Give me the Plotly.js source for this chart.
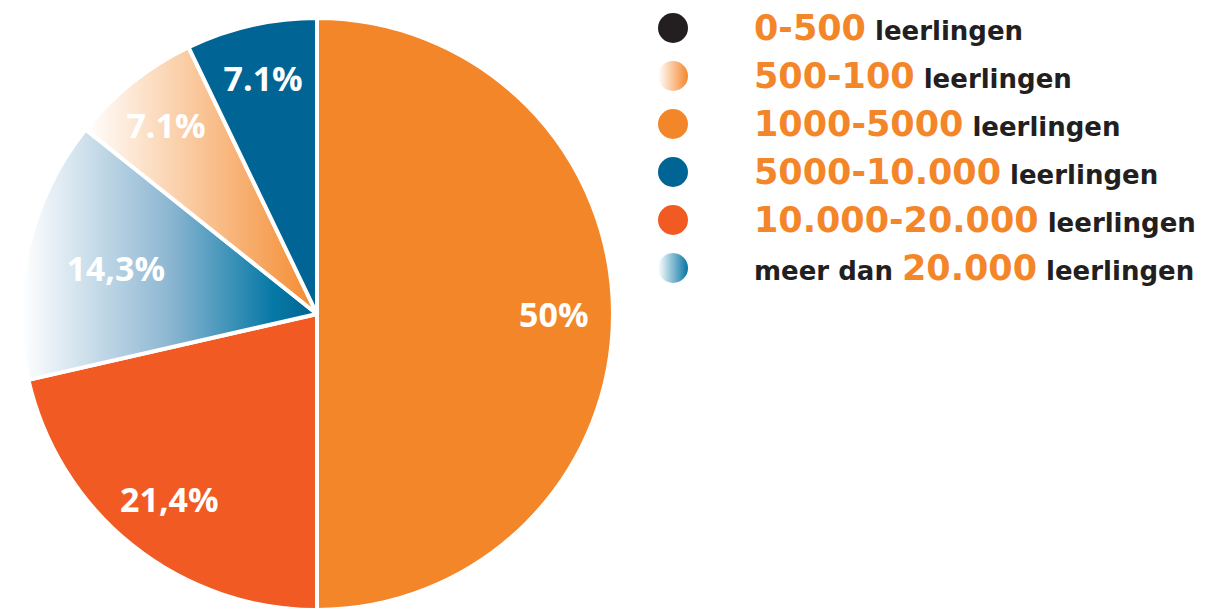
<!DOCTYPE html>
<html>
<head>
<meta charset="utf-8">
<script src="https://cdn.plot.ly/plotly-3.0.1.min.js"></script>
<style>
  html, body { margin: 0; padding: 0; background: #ffffff; }
  #chart { width: 1211px; height: 610px; }
</style>
</head>
<body>
<div id="chart"></div>
<script>
// ---- data ----
const categories = ['0-500', '500-100', '1000-5000', '5000-10.000', '10.000-20.000', '20.000'];
const prefixes   = ['', '', '', '', '', 'meer dan '];
const suffix     = 'leerlingen';
const counts     = [0, 1, 7, 1, 3, 2];
const pctLabels  = ['0%', '7.1%', '50%', '7.1%', '21,4%', '14,3%'];
// order of slices, clockwise from 12 o'clock
const pieOrder   = [2, 4, 5, 1, 3];

// ---- styles ----
const ORANGE = '#F4862A', RED = '#F15A22', BLUE = '#006595', BLACK = '#231F20';
const solidColors = ['#231F20', '#F6A766', ORANGE, BLUE, RED, '#5A9DC0'];
const gradientIds = [null, 'gPeach', null, null, null, 'gBlue'];
const markerColors = [BLACK, '#ffffff', ORANGE, BLUE, RED, '#ffffff'];
const gradColors   = [BLACK, ORANGE, ORANGE, BLUE, RED, '#0574A2'];
const gradTypes    = ['none', 'horizontal', 'none', 'none', 'none', 'horizontal'];

const W = 1211, H = 610, MT = 18;
const PIE_DOMAIN_X = [0, 634 / W];
const LABEL_FONT = { family: 'Open Sans', size: 34, color: '#ffffff', weight: 'bold' };
const BIG_SHARE = 0.2;      // larger slices get their label near the rim
const RIM_FRAC = 0.8;

const pieValues = pieOrder.map(i => counts[i]);
const total = pieValues.reduce((a, b) => a + b, 0);

const pieTrace = {
  type: 'pie',
  labels: pieOrder.map(i => categories[i]),
  values: pieValues,
  text: pieOrder.map(i => (counts[i] / total >= BIG_SHARE ? '' : pctLabels[i])),
  textinfo: 'text',
  textposition: 'inside',
  insidetextorientation: 'horizontal',
  textfont: LABEL_FONT,
  marker: { colors: pieOrder.map(i => solidColors[i]), line: { color: '#ffffff', width: 4 } },
  sort: false,
  direction: 'clockwise',
  rotation: 0,
  hoverinfo: 'none',
  showlegend: false,
  domain: { x: PIE_DOMAIN_X, y: [0, 1] }
};

const legendTrace = {
  type: 'scatter',
  mode: 'markers',
  x: categories.map(() => 0),
  y: categories,
  marker: {
    size: 30,
    color: markerColors,
    gradient: { type: gradTypes, color: gradColors },
    line: { width: 0 }
  },
  hoverinfo: 'none',
  showlegend: false,
  cliponaxis: false
};

const annotations = categories.map((c, i) => ({
  xref: 'paper', yref: 'y',
  x: 752 / W, y: i,
  xanchor: 'left', yanchor: 'middle',
  showarrow: false,
  align: 'left',
  font: { family: 'DejaVu Sans', size: 26, color: BLACK, weight: 'bold' },
  text: prefixes[i] + '<span style="color:' + ORANGE + ';font-size:35px">' + c + '</span> ' + suffix
}));

// rim labels for the large slices, positioned from the slice angles
const plotH = H - MT;
const R = Math.min((PIE_DOMAIN_X[1] - PIE_DOMAIN_X[0]) * W, plotH) / 2;
const cxPaper = (PIE_DOMAIN_X[0] + PIE_DOMAIN_X[1]) / 2;
let cum = 0;
pieOrder.forEach(i => {
  const v = counts[i];
  const theta = 2 * Math.PI * (cum + v / 2) / total;
  cum += v;
  if (v / total >= BIG_SHARE) {
    annotations.push({
      xref: 'paper', yref: 'paper',
      x: cxPaper + R * RIM_FRAC * Math.sin(theta) / W,
      y: 0.5 + R * RIM_FRAC * Math.cos(theta) / plotH,
      xanchor: 'center', yanchor: 'middle',
      showarrow: false,
      font: LABEL_FONT,
      text: pctLabels[i]
    });
  }
});

const layout = {
  width: W, height: H,
  margin: { l: 0, r: 0, t: MT, b: 0 },
  paper_bgcolor: '#ffffff', plot_bgcolor: 'rgba(0,0,0,0)',
  xaxis: { visible: false, range: [-673, 538], fixedrange: true },
  yaxis: { visible: false, type: 'category', categoryorder: 'array', categoryarray: categories,
           range: [12.125, -0.2083], fixedrange: true },
  annotations: annotations,
  showlegend: false
};

Plotly.newPlot('chart', [legendTrace, pieTrace], layout, { displayModeBar: false, staticPlot: true }).then(gd => {
  const svgNS = 'http://www.w3.org/2000/svg';
  const defs = gd.querySelector('.main-svg defs');
  function addGrad(id, stops) {
    const lg = document.createElementNS(svgNS, 'linearGradient');
    lg.setAttribute('id', id);
    lg.setAttribute('x1', '0'); lg.setAttribute('y1', '0');
    lg.setAttribute('x2', '1'); lg.setAttribute('y2', '0');
    stops.forEach(s => {
      const st = document.createElementNS(svgNS, 'stop');
      st.setAttribute('offset', s[0]);
      st.setAttribute('stop-color', s[1]);
      lg.appendChild(st);
    });
    defs.appendChild(lg);
  }
  addGrad('gPeach', [[0, '#ffffff'], [1, '#F48A2E']]);
  addGrad('gBlue', [[0, '#ffffff'], [0.5, '#8DB7D2'], [0.85, '#0779A6'], [1, '#00628F']]);
  const slices = gd.querySelectorAll('.pielayer .slice path.surface');
  slices.forEach((p, k) => {
    const id = gradientIds[pieOrder[k]];
    if (id) p.style.fill = 'url(#' + id + ')';
  });
});
</script>
</body>
</html>
